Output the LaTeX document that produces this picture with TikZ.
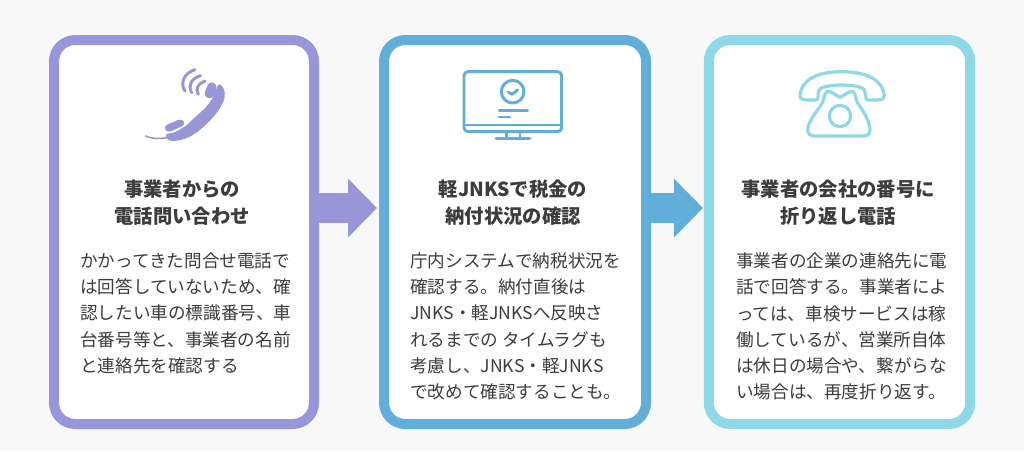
\documentclass[tikz,border=0pt]{standalone}
\usepackage{fontspec}
\setmainfont{Noto Sans CJK JP}
\usetikzlibrary{arrows.meta}
\definecolor{bgc}{HTML}{F8F8F8}
\definecolor{cpur}{HTML}{9896D8}
\definecolor{cblu}{HTML}{62AEDB}
\definecolor{ccya}{HTML}{8FD8E8}
\definecolor{txt}{HTML}{3C3C3C}
\tikzset{
  cardbox/.style={draw=#1,fill=white,line width=7.5pt,rounded corners=16pt,minimum width=195pt,minimum height=288pt,inner sep=0pt},
  titletext/.style={anchor=north,inner sep=0pt,align=center,text=txt,font=\fontsize{14.5}{19.8}\selectfont\bfseries},
  bodytext/.style={anchor=north west,inner sep=0pt,align=left,text=txt,font=\fontsize{13.2}{19.65}\selectfont},
  flowarrow/.style={draw=#1,line width=22.5pt,-{Triangle[length=21.75pt,width=42.75pt,fill=#1]}},
  iconline/.style={draw=#1,line width=2.2pt,line cap=round,line join=round,fill=none}
}
\begin{document}
\begin{tikzpicture}[x=0.75pt,y=-0.75pt]
\path[use as bounding box,fill=bgc] (0,0) rectangle (1024,451);
% cards
\node[cardbox=cpur] (c1) at (184,232) {};
\node[cardbox=cblu,minimum width=196.5pt] (c2) at (515,232) {};
\node[cardbox=ccya,minimum width=196pt] (c3) at (839.5,232) {};
% connectors
\coordinate (a1) at (377,208);
\coordinate (a2) at (703,208);
\draw[flowarrow=cpur] (c1.east |- a1) -- (a1);
\draw[flowarrow=cblu] (c2.east |- a2) -- (a2);
% titles
\node[titletext] (t1) at (182,180) {事業者からの\\電話問い合わせ};
\node[titletext] (t2) at (513,180) {軽JNKSで税金の\\納付状況の確認};
\node[titletext] (t3) at (838,180) {事業者の会社の番号に\\折り返し電話};
% bodies
\node[bodytext] (b1) at (80,252.5) {かかってきた問合せ電話で\\は回答していないため、確\\認したい車の標識番号、車\\台番号等と、事業者の名前\\と連絡先を確認する};
\node[bodytext] (b2) at (410,252.5) {庁内システムで納税状況を\\確認する。納付直後は\\JNKS・軽JNKSへ反映さ\\れるまでの タイムラグも\\考慮し、JNKS・軽JNKS\\で改めて確認することも。};
\node[bodytext] (b3) at (736,252.5) {事業者の企業の連絡先に電\\話で回答する。事業者によ\\っては、車検サービスは稼\\働しているが、営業所自体\\は休日の場合や、繋がらな\\い場合は、再度折り返す。};
% icon 1: handset
\begin{scope}[shift={(130,55)},x=0.25pt,y=-0.25pt]
  \fill[cpur,rounded corners=3pt] (238,78) -- (264,90) -- (246,134) -- (220,122) -- cycle;
  \fill[cpur,rounded corners=2pt] (266,85) .. controls (286,100) and (288,125) .. (276,148)
     .. controls (258,180) and (228,212) .. (192,238)
     .. controls (165,254) and (135,260) .. (112,255) -- (106,236)
     .. controls (130,236) and (155,222) .. (175,207)
     .. controls (200,180) and (230,160) .. (248,128) -- cycle;
  \fill[cpur,rounded corners=3pt] (100,214) -- (155,190) -- (168,208) -- (112,234) -- cycle;
  \draw[cpur,line width=1.2pt,line cap=round] (47,243) .. controls (65,252) and (90,252) .. (110,248);
  \draw[cpur,line width=2.2pt,line cap=round] (195,44) .. controls (160,55) and (150,85) .. (165,108);
  \draw[cpur,line width=2.2pt,line cap=round] (212,62) .. controls (185,70) and (172,90) .. (185,113);
  \draw[cpur,line width=2.2pt,line cap=round] (225,78) .. controls (205,85) and (195,100) .. (205,118);
\end{scope}
% icon 2: monitor
\begin{scope}[shift={(450,60)},x=0.25pt,y=-0.25pt]
  \draw[iconline=cblu,rounded corners=3pt] (42,35) rectangle (335,215);
  \draw[iconline=cblu] (42,195) -- (335,195);
  \draw[iconline=cblu] (170,215) -- (170,235) (210,215) -- (210,235) (138,235) -- (240,235);
  \draw[iconline=cblu] (188,95) circle[radius=34];
  \draw[iconline=cblu] (175,96) -- (186,103) -- (203,90);
  \draw[iconline=cblu] (147,152) -- (233,152) (147,171) -- (180,171);
\end{scope}
% icon 3: telephone
\begin{scope}[shift={(785,60)},x=0.25pt,y=-0.25pt]
  \draw[iconline=ccya,line width=2.4pt] (45,105) .. controls (50,60) and (95,35) .. (170,35)
     .. controls (245,35) and (292,60) .. (298,105)
     .. controls (300,122) and (285,120) .. (250,120)
     .. controls (238,120) and (245,105) .. (238,90)
     .. controls (225,70) and (115,70) .. (102,90)
     .. controls (95,105) and (105,120) .. (92,120)
     .. controls (60,120) and (42,122) .. (45,105) -- cycle;
  \draw[iconline=ccya,line width=2.4pt] (125,95) .. controls (135,90) and (150,105) .. (165,112)
     .. controls (180,105) and (195,90) .. (205,95)
     .. controls (215,105) and (210,125) .. (225,140)
     .. controls (240,160) and (255,190) .. (255,210)
     .. controls (255,225) and (245,228) .. (235,228)
     -- (90,228) .. controls (75,228) and (68,222) .. (68,208)
     .. controls (68,190) and (90,160) .. (105,140)
     .. controls (118,125) and (115,105) .. (125,95) -- cycle;
  \draw[iconline=ccya,line width=2.4pt] (165,168) circle[radius=32];
\end{scope}
\end{tikzpicture}
\end{document}
